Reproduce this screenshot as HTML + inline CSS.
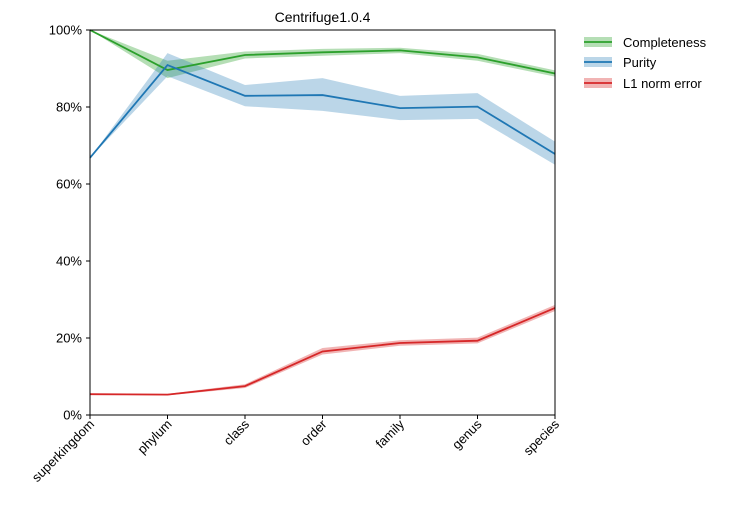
<!DOCTYPE html>
<html><head><meta charset="utf-8"><style>
body{margin:0;background:#fff;font-family:"Liberation Sans","DejaVu Sans",sans-serif}
text{font-family:"Liberation Sans","DejaVu Sans",sans-serif}
</style></head><body>
<svg id="chart" width="737" height="515" xmlns="http://www.w3.org/2000/svg">
<text x="322.5" y="22" text-anchor="middle" font-size="14">Centrifuge1.0.4</text>
<g id="bands"></g><g id="lines"></g>
<rect x="90" y="30" width="465" height="385" fill="none" stroke="#000" stroke-width="1"/>
<g id="axes"></g>
<g id="legend">
<rect x="584" y="37" width="28" height="10" fill="#2ca02c" opacity="0.35"/><line x1="584" y1="42" x2="612" y2="42" stroke="#2ca02c" stroke-width="1.8"/>
<text x="623" y="47" font-size="13">Completeness</text>
<rect x="584" y="57" width="28" height="10" fill="#1f77b4" opacity="0.3"/><line x1="584" y1="62" x2="612" y2="62" stroke="#1f77b4" stroke-width="1.8"/>
<text x="623" y="67" font-size="13">Purity</text>
<rect x="584" y="78" width="28" height="10" fill="#d62728" opacity="0.35"/><line x1="584" y1="83" x2="612" y2="83" stroke="#d62728" stroke-width="1.8"/>
<text x="623" y="88" font-size="13">L1 norm error</text>
</g>
</svg>
<script>
const categories=["superkingdom","phylum","class","order","family","genus","species"];
const completeness=[100,89.6,93.5,94.2,94.7,92.9,88.7];
const completenessLo=[100,87.5,92.6,93.3,94.0,92.0,87.9];
const completenessHi=[100,92.0,94.4,95.1,95.4,93.8,89.5];
const purity=[66.8,90.9,82.9,83.1,79.7,80.1,67.8];
const purityLo=[66.8,88.0,80.2,79.0,76.6,76.9,65.0];
const purityHi=[66.8,94.0,85.7,87.5,82.9,83.6,71.0];
const l1=[5.4,5.3,7.5,16.5,18.7,19.3,27.8];
const l1Lo=[5.2,5.1,7.0,15.7,18.0,18.6,27.0];
const l1Hi=[5.6,5.5,8.0,17.4,19.4,20.1,28.6];
const yTicks=[0,20,40,60,80,100];
const NS="http://www.w3.org/2000/svg";
const X=i=>90+i*465/(categories.length-1);
const Y=v=>415-v*3.85;
function mk(t,a,p){const e=document.createElementNS(NS,t);for(const k in a)e.setAttribute(k,a[k]);p.appendChild(e);return e;}
const bands=document.getElementById('bands'),lines=document.getElementById('lines'),axes=document.getElementById('axes');
function series(name,v,lo,hi,col,op){
  let d=lo.map((x,i)=>(i?'L':'M')+X(i)+','+Y(x)).join('')+hi.map((x,i)=>i).reverse().map(i=>'L'+X(i)+','+Y(hi[i])).join('')+'Z';
  const b=mk('path',{d:d,fill:col,opacity:op},bands);
  
  
  const l=mk('path',{d:v.map((x,i)=>(i?'L':'M')+X(i)+','+Y(x)).join(''),fill:'none',stroke:col,'stroke-width':1.8},lines);
  
  
}
series('completeness',completeness,completenessLo,completenessHi,'#2ca02c',0.35);
series('purity',purity,purityLo,purityHi,'#1f77b4',0.3);
series('l1-norm-error',l1,l1Lo,l1Hi,'#d62728',0.35);
yTicks.forEach(t=>{
  mk('line',{x1:86,x2:90,y1:Y(t),y2:Y(t),stroke:'#000'},axes);
  const tx=mk('text',{x:82,y:Y(t)+4.5,'text-anchor':'end','font-size':13},axes);
  tx.textContent=t+'%';
  
  
});
categories.forEach((c,i)=>{
  mk('line',{x1:X(i),x2:X(i),y1:415,y2:419,stroke:'#000'},axes);
  const tx=mk('text',{x:X(i)+5,y:425,'text-anchor':'end','font-size':13,transform:`rotate(-45 ${X(i)+5} 425)`},axes);
  tx.textContent=c;
  
  
});
</script>
</body></html>
